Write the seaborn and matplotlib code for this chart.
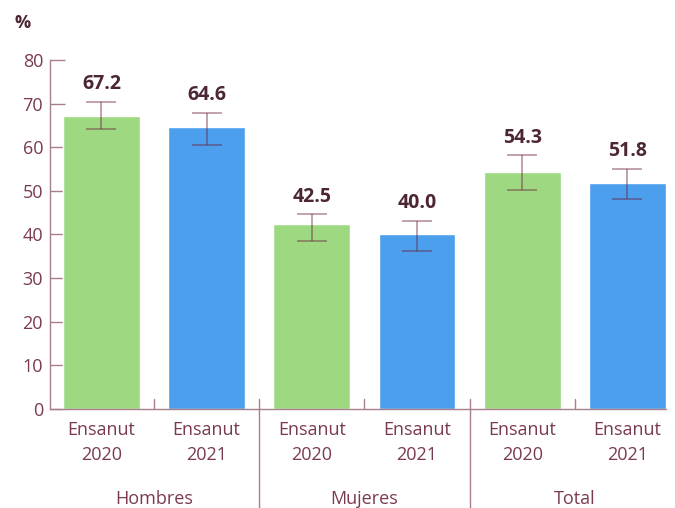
import matplotlib
matplotlib.use("Agg")
import matplotlib.pyplot as plt
import seaborn as sns
import pandas as pd

groups = ["Hombres", "Hombres", "Mujeres", "Mujeres", "Total", "Total"]
surveys = ["Ensanut\n2020", "Ensanut\n2021", "Ensanut\n2020", "Ensanut\n2021", "Ensanut\n2020", "Ensanut\n2021"]
years = ["2020", "2021", "2020", "2021", "2020", "2021"]
values = [67.2, 64.6, 42.5, 40.0, 54.3, 51.8]
ci_low = [64.2, 60.6, 38.4, 36.3, 50.2, 48.2]
ci_high = [70.3, 67.9, 44.6, 43.1, 58.1, 55.0]
group_names = ["Hombres", "Mujeres", "Total"]

df = pd.DataFrame({"pos": range(len(values)), "valor": values, "año": years})

text_col = "#7a3a52"
line_col = "#a87f8c"
colors = {"2020": "#9ed981", "2021": "#4b9fec"}

sns.set_style("white")
plt.rcParams["font.family"] = ["Open Sans", "DejaVu Sans"]

fig = plt.figure(figsize=(6.75, 5.08), dpi=100)
ax = fig.add_axes([0.074, 0.195, 0.913, 0.687])

sns.barplot(data=df, x="pos", y="valor", hue="año", palette=colors,
            dodge=False, width=0.73, saturation=1, legend=False, ax=ax)

# error bars (semi-transparent maroon, darker over the bars)
for i, v in enumerate(values):
    ax.errorbar(i, v, yerr=[[v - ci_low[i]], [ci_high[i] - v]], fmt="none",
                ecolor="#6a1f3c", alpha=0.45, elinewidth=1.3, capsize=11, capthick=1.3)
    ax.text(i, ci_high[i] + 1.8, f"{v:.1f}", ha="center", va="bottom",
            fontsize=14, fontweight="bold", color="#4d2636")

ax.set_ylim(0, 80)
ax.set_xlim(-0.49, 5.37)
ax.set_yticks(range(0, 81, 10))
ax.set_xticks(range(len(values)))
ax.set_xticklabels(surveys, linespacing=1.55)
ax.set_xlabel("")
ax.set_ylabel("")

for s in ["top", "right"]:
    ax.spines[s].set_visible(False)
for s in ["left", "bottom"]:
    ax.spines[s].set_color(line_col)
    ax.spines[s].set_linewidth(1.0)

ax.tick_params(axis="y", direction="in", length=11, width=1, color=line_col,
               labelcolor=text_col, labelsize=13, pad=5, left=True)
ax.tick_params(axis="x", bottom=False, labelcolor=text_col, labelsize=13, pad=5)

# small inward ticks between bars of each group
for g in range(3):
    mid = 2 * g + 0.5
    ax.plot([mid, mid], [0, 2.2], color=line_col, lw=1, clip_on=False)
    ax.text(mid, -20.6, group_names[g], ha="center", va="center",
            fontsize=13, color=text_col)
# separators between groups
for sep in [1.5, 3.5]:
    ax.plot([sep, sep], [2.2, -23.0], color=line_col, lw=1, clip_on=False)

fig.text(0.022, 0.955, "%", fontsize=13, fontweight="bold", color="#4d2636",
         ha="left", va="center")

fig.savefig("out.png", dpi=100)
